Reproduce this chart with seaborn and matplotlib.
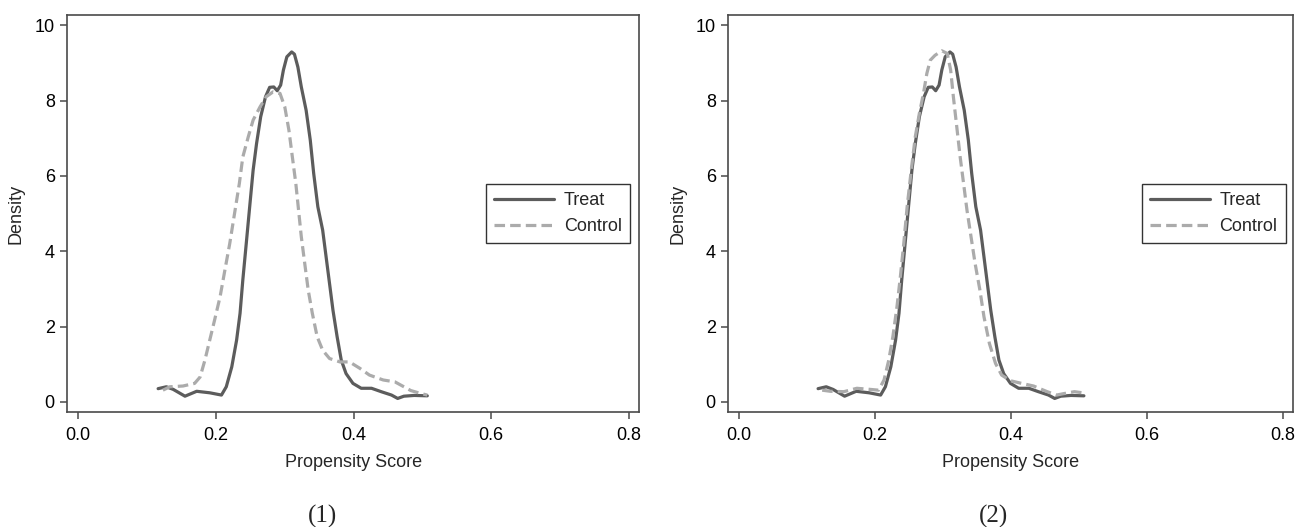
import matplotlib
matplotlib.use("Agg")
import matplotlib.pyplot as plt
import seaborn as sns

# propensity score grid and kernel densities
ps_treat = [0.116, 0.128, 0.138, 0.155, 0.172, 0.191, 0.208, 0.215, 0.223, 0.230,
            0.235, 0.239, 0.244, 0.249, 0.254, 0.259, 0.265, 0.272, 0.278, 0.284,
            0.289, 0.294, 0.298, 0.303, 0.310, 0.314, 0.319, 0.324, 0.331, 0.337,
            0.342, 0.348, 0.355, 0.360, 0.365, 0.370, 0.376, 0.382, 0.389, 0.399,
            0.411, 0.426, 0.440, 0.455, 0.464, 0.473, 0.488, 0.507]
dens_treat = [0.35, 0.40, 0.33, 0.15, 0.28, 0.24, 0.18, 0.40, 0.93, 1.64,
              2.35, 3.23, 4.20, 5.18, 6.15, 6.86, 7.57, 8.10, 8.35, 8.36,
              8.26, 8.41, 8.81, 9.16, 9.29, 9.23, 8.89, 8.36, 7.74, 6.95,
              6.06, 5.18, 4.56, 3.85, 3.14, 2.43, 1.73, 1.11, 0.75, 0.49,
              0.36, 0.36, 0.27, 0.18, 0.09, 0.15, 0.17, 0.16]

# control group before matching (1)
ps_ctrl_1 = [0.123, 0.133, 0.152, 0.169, 0.177, 0.184, 0.191, 0.198, 0.206, 0.213,
             0.220, 0.227, 0.234, 0.239, 0.247, 0.254, 0.264, 0.273, 0.283, 0.293,
             0.300, 0.306, 0.311, 0.316, 0.320, 0.324, 0.329, 0.334, 0.340, 0.347,
             0.355, 0.365, 0.380, 0.394, 0.409, 0.423, 0.443, 0.460, 0.468, 0.483,
             0.498, 0.507]
dens_ctrl_1 = [0.31, 0.40, 0.42, 0.49, 0.66, 1.11, 1.64, 2.17, 2.79, 3.50,
               4.20, 5.00, 5.80, 6.50, 7.04, 7.48, 7.83, 8.10, 8.23, 8.19,
               7.83, 7.21, 6.50, 5.80, 5.09, 4.38, 3.67, 2.97, 2.35, 1.73,
               1.37, 1.15, 1.06, 1.06, 0.89, 0.71, 0.58, 0.53, 0.45, 0.30,
               0.22, 0.18]

# control group after matching (2)
ps_ctrl_2 = [0.122, 0.134, 0.154, 0.173, 0.193, 0.205, 0.213, 0.220, 0.226, 0.232,
             0.237, 0.242, 0.247, 0.253, 0.259, 0.265, 0.271, 0.276, 0.281, 0.288,
             0.298, 0.306, 0.311, 0.315, 0.320, 0.325, 0.330, 0.335, 0.341, 0.347,
             0.354, 0.360, 0.368, 0.377, 0.386, 0.399, 0.413, 0.433, 0.453, 0.467,
             0.475, 0.493, 0.505]
dens_ctrl_2 = [0.31, 0.28, 0.27, 0.36, 0.33, 0.31, 0.58, 1.11, 1.73, 2.52,
               3.32, 4.20, 5.18, 6.15, 7.04, 7.66, 8.19, 8.72, 9.07, 9.20,
               9.32, 9.25, 8.81, 8.10, 7.30, 6.50, 5.80, 5.09, 4.38, 3.67,
               2.97, 2.26, 1.55, 1.02, 0.71, 0.56, 0.50, 0.42, 0.27, 0.18,
               0.21, 0.27, 0.24]

panels = ["(1)", "(2)"]
controls = [(ps_ctrl_1, dens_ctrl_1), (ps_ctrl_2, dens_ctrl_2)]
x_ticks = [0.0, 0.2, 0.4, 0.6, 0.8]
y_ticks = [0, 2, 4, 6, 8, 10]

sns.set_style("ticks")
plt.rcParams["font.family"] = ["Liberation Sans", "DejaVu Sans"]

frame_col = "#4a4a4a"
treat_col = "#5c5c5c"
ctrl_col = "#ababab"
fs = 13

fig = plt.figure(figsize=(12.96, 5.27), dpi=100)
axes = [fig.add_axes([0.0519, 0.2182, 0.4414, 0.7533]),
        fig.add_axes([0.5620, 0.2182, 0.4359, 0.7533])]

for ax, (cx, cy), tag, cap_x in zip(axes, controls, panels, [0.2485, 0.7665]):
    sns.lineplot(x=ps_treat, y=dens_treat, ax=ax, sort=False, color=treat_col,
                 linewidth=2.3, label="Treat")
    sns.lineplot(x=cx, y=cy, ax=ax, sort=False, color=ctrl_col,
                 linewidth=2.3, linestyle=(0, (3.3, 1.6)), label="Control")

    ax.set_xlim(-0.016, 0.815)
    ax.set_ylim(-0.27, 10.27)
    ax.set_xticks(x_ticks)
    ax.set_xticklabels([f"{t:.1f}" for t in x_ticks])
    ax.set_yticks(y_ticks)
    ax.set_xlabel("Propensity Score", fontsize=fs, labelpad=7)
    ax.set_ylabel("Density", fontsize=fs, labelpad=7)
    ax.tick_params(axis="both", labelsize=fs, length=5, width=1.1,
                   color=frame_col, labelcolor="black")
    ax.tick_params(axis="x", pad=6)
    ax.tick_params(axis="y", pad=4)
    for sp in ax.spines.values():
        sp.set_visible(True)
        sp.set_color(frame_col)
        sp.set_linewidth(1.2)
    ax.grid(False)

    leg = ax.legend(loc="upper left", bbox_to_anchor=(0.732, 0.574),
                    borderaxespad=0, fontsize=fs, handlelength=3.3,
                    handletextpad=0.55, labelspacing=0.5, borderpad=0.45,
                    fancybox=False, framealpha=1, edgecolor="#333333")
    leg.get_frame().set_linewidth(1.0)

    fig.text(cap_x, 1 - 516 / 527, tag, ha="center", va="center",
             fontsize=18, family=["Liberation Serif", "DejaVu Serif"])

fig.savefig("out.png", dpi=100)
